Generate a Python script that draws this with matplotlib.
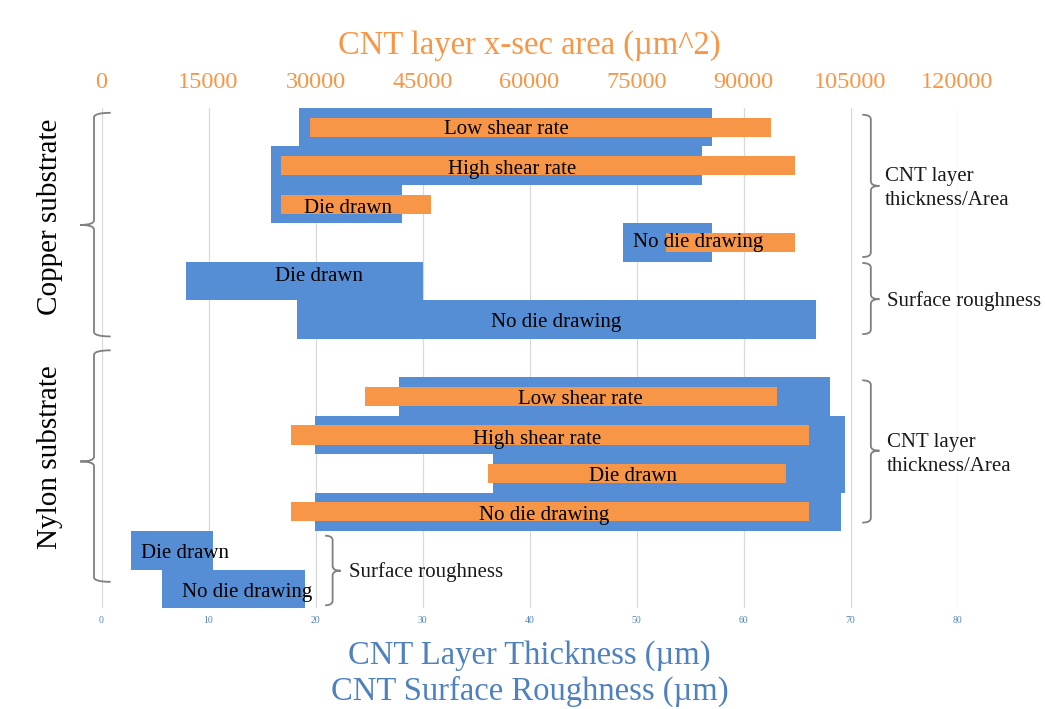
import matplotlib
matplotlib.use('Agg')
import matplotlib.pyplot as plt
from matplotlib.path import Path
from matplotlib.patches import PathPatch

plt.rcParams['font.family'] = 'Liberation Serif'

BLUE = '#558ED5'
ORANGE = '#F79646'
AXIS_BLUE = '#4F81BD'

# rows from top to bottom (row 6 is a spacer between the two substrates)
row_names = ['Low shear rate', 'High shear rate', 'Die drawn', 'No die drawing',
             'Die drawn', 'No die drawing', '',
             'Low shear rate', 'High shear rate', 'Die drawn', 'No die drawing',
             'Die drawn', 'No die drawing']

# CNT layer thickness / surface roughness ranges (um), blue bars
thick_rows = [0, 1, 2, 3, 4, 5, 7, 8, 9, 10, 11, 12]
thick_lo = [18.5, 15.8, 15.8, 48.7, 7.9, 18.3, 27.8, 19.95, 36.6, 19.95, 2.8, 5.65]
thick_hi = [57.1, 56.1, 28.1, 57.1, 30.0, 66.8, 68.1, 69.5, 69.5, 69.1, 10.4, 19.05]

# CNT layer cross-section area ranges (um^2), orange bars
area_rows = [0, 1, 2, 3, 7, 8, 9, 10]
area_lo = [29200, 25100, 25100, 79100, 36900, 26500, 54200, 26500]
area_hi = [93800, 97200, 46200, 97200, 94700, 99200, 96000, 99200]

# label placement (x in um, row position)
label_x = [37.8, 38.4, 23.0, 55.8, 20.3, 42.5, None, 44.8, 40.7, 49.7, 41.4, 7.8, 13.6]
label_y = [0.07, 1.09, 2.12, 2.99, 3.87, 5.07, None, 7.07, 8.12, 9.07, 10.09, 11.07, 12.1]

x_ticks = list(range(0, 81, 10))
area_ticks = list(range(0, 120001, 15000))


def brace(ax, x_line, x_hook, x_tip, y_top, y_mid, y_bot, ry=0.12):
    verts = [(x_hook, y_top), (x_line, y_top), (x_line, y_top + ry),
             (x_line, y_mid - ry), (x_line, y_mid), (x_tip, y_mid),
             (x_line, y_mid), (x_line, y_mid + ry),
             (x_line, y_bot - ry), (x_line, y_bot), (x_hook, y_bot)]
    codes = [Path.MOVETO, Path.CURVE3, Path.CURVE3,
             Path.LINETO, Path.CURVE3, Path.CURVE3,
             Path.CURVE3, Path.CURVE3,
             Path.LINETO, Path.CURVE3, Path.CURVE3]
    ax.add_patch(PathPatch(Path(verts, codes), fill=False, edgecolor='#7F7F7F',
                           lw=1.3, clip_on=False, zorder=5))


fig = plt.figure(figsize=(10.45, 7.09), dpi=100)
ax = fig.add_axes([101.5 / 1045, 1 - 608 / 709, 856 / 1045, 500 / 709])
ax2 = ax.twiny()

# thickness bars span the whole row
ax.barh(thick_rows, [hi - lo for lo, hi in zip(thick_lo, thick_hi)], left=thick_lo,
        height=1.0, color=BLUE, zorder=2)
ax.set_xlim(0, 80)
ax.set_ylim(12.5, -0.5)
ax.set_xticks(x_ticks)
ax.set_yticks([])
ax.tick_params(axis='x', length=0, pad=6, labelsize=7, labelcolor=AXIS_BLUE)
ax.grid(axis='x', color='#D9D9D9', lw=0.9, zorder=0)
ax.set_axisbelow(True)

# area bars are half height on the secondary axis
ax2.barh(area_rows, [hi - lo for lo, hi in zip(area_lo, area_hi)], left=area_lo,
         height=0.5, color=ORANGE, zorder=3)
ax2.set_xlim(0, 120000)
ax2.set_xticks(area_ticks)
ax2.set_xticklabels([str(t) for t in area_ticks])
ax2.tick_params(axis='x', length=0, pad=11, labelsize=17.5, labelcolor=ORANGE)

for a in (ax, ax2):
    for s in a.spines.values():
        s.set_visible(False)

for name, lx, ly in zip(row_names, label_x, label_y):
    if lx is None:
        continue
    ax2.text(lx * 1500, ly, name, ha='center', va='center', fontsize=15,
             color='black', zorder=6)

# group braces
brace(ax, -0.7, 0.86, -2.0, -0.375, 2.54, 5.44)
brace(ax, -0.7, 0.86, -2.0, 5.80, 8.69, 11.82)
brace(ax, 71.9, 71.1, 72.7, -0.325, 1.525, 3.376)
brace(ax, 71.9, 71.1, 72.7, 3.53, 4.47, 5.38)
brace(ax, 71.9, 71.1, 72.7, 6.58, 8.41, 10.28)
brace(ax, 21.6, 20.9, 22.35, 10.62, 11.53, 12.43)

side_kw = dict(ha='left', va='center', fontsize=15, color='#1a1a1a', clip_on=False)
ax.text(73.2, 1.6, 'CNT layer\nthickness/Area', linespacing=1.35, **side_kw)
ax.text(73.4, 4.52, 'Surface roughness', **side_kw)
ax.text(73.4, 8.5, 'CNT layer\nthickness/Area', linespacing=1.35, **side_kw)
ax.text(23.1, 11.57, 'Surface roughness', **side_kw)

fig.text(529.5 / 1045, 1 - 46 / 709, 'CNT layer x-sec area (µm^2)', ha='center',
         va='center', fontsize=23.5, color=ORANGE)
fig.text(529.5 / 1045, 1 - 656 / 709, 'CNT Layer Thickness (µm)', ha='center',
         va='center', fontsize=23.5, color=AXIS_BLUE)
fig.text(529.5 / 1045, 1 - 691 / 709, 'CNT Surface Roughness (µm)', ha='center',
         va='center', fontsize=23.5, color=AXIS_BLUE)
fig.text(50 / 1045, 1 - 217 / 709, 'Copper substrate', rotation=90, ha='center',
         va='center', fontsize=21)
fig.text(50 / 1045, 1 - 457 / 709, 'Nylon substrate', rotation=90, ha='center',
         va='center', fontsize=21)

fig.savefig('out.png', dpi=100)
